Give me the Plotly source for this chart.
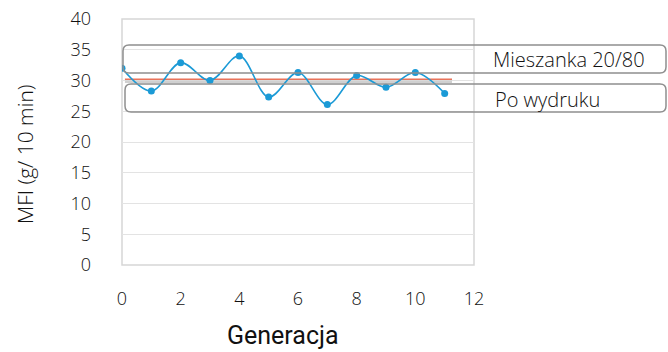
import plotly.graph_objects as go

generations = list(range(12))
mfi_values = [32.0, 28.3, 32.9, 30.0, 34.0, 27.3, 31.3, 26.1, 30.8, 28.9, 31.3, 27.9]
blend_level = 30.2
blend_x = [0.1, 11.25]
x_ticks = [0, 2, 4, 6, 8, 10, 12]
y_ticks = [0, 5, 10, 15, 20, 25, 30, 35, 40]
legend_labels = ["Mieszanka 20/80", "Po wydruku"]

W, H = 668, 352
L, R, T, B = 122, 194, 19, 87
pw, ph = W - L - R, H - T - B

def px_x(p):
    return (p - L) / pw

def px_y(p):
    return (H - B - p) / ph

def rounded(x0, y0, x1, y1, r=6):
    rx, ry = r / pw, r / ph
    a, b, c, d = px_x(x0), px_y(y1), px_x(x1), px_y(y0)
    return (f"M{a+rx},{b} L{c-rx},{b} Q{c},{b} {c},{b+ry} L{c},{d-ry} Q{c},{d} {c-rx},{d} "
            f"L{a+rx},{d} Q{a},{d} {a},{d-ry} L{a},{b+ry} Q{a},{b} {a+rx},{b} Z")

fig = go.Figure()

fig.add_trace(go.Scatter(x=blend_x, y=[blend_level - 0.4] * 2, mode="lines",
                         line=dict(color="#d0d0d0", width=2.5), hoverinfo="skip", showlegend=False))
fig.add_trace(go.Scatter(x=blend_x, y=[blend_level] * 2, mode="lines",
                         line=dict(color="#e8735a", width=1.6), name=legend_labels[0], showlegend=False))
fig.add_trace(go.Scatter(x=generations, y=mfi_values, mode="lines+markers",
                         line=dict(color="#1b9ad6", width=1.6, shape="spline", smoothing=1.0),
                         marker=dict(color="#1b9ad6", size=7), name=legend_labels[1], showlegend=False))

font_main = "Open Sans, Noto Sans, sans-serif"
tick_font = dict(family=font_main, size=18, color="#111111", weight=350)

fig.update_layout(
    template="none",
    width=W, height=H,
    margin=dict(l=L, r=R, t=T, b=B, autoexpand=False),
    paper_bgcolor="white", plot_bgcolor="white",
    xaxis=dict(range=[0, 12], tickvals=x_ticks, showgrid=False, zeroline=False, automargin=False,
               showline=False, ticks="", ticklabelstandoff=21, tickfont=tick_font),
    yaxis=dict(range=[0, 40], tickvals=y_ticks, showgrid=True, gridcolor="#e3e3e3", automargin=False,
               gridwidth=1, zeroline=False, showline=False, ticks="", ticklabelstandoff=30,
               tickfont=tick_font),
    shapes=[
        dict(type="rect", xref="paper", yref="paper", x0=0, y0=0, x1=1, y1=1,
             line=dict(color="#d6d6d6", width=1.5), layer="below"),
        dict(type="path", xref="paper", yref="paper", path=rounded(123, 45, 666, 73),
             line=dict(color="#8f8f8f", width=1.5)),
        dict(type="path", xref="paper", yref="paper", path=rounded(125, 84, 666, 112),
             line=dict(color="#8f8f8f", width=1.5)),
    ],
    annotations=[
        dict(text=legend_labels[0], xref="paper", yref="paper", x=px_x(491), y=px_y(59),
             xanchor="left", yanchor="middle", showarrow=False,
             font=dict(family=font_main, size=20, color="#111111", weight=350)),
        dict(text=legend_labels[1], xref="paper", yref="paper", x=px_x(493), y=px_y(99),
             xanchor="left", yanchor="middle", showarrow=False,
             font=dict(family=font_main, size=20, color="#111111", weight=350)),
        dict(text="MFI (g/ 10 min)", xref="paper", yref="paper", x=px_x(25), y=px_y(154),
             xanchor="center", yanchor="middle", textangle=-90, showarrow=False,
             font=dict(family=font_main, size=21, color="#111111", weight=350)),
        dict(text="Generacja", xref="paper", yref="paper", x=px_x(283), y=px_y(335),
             xanchor="center", yanchor="middle", showarrow=False,
             font=dict(family="Roboto, sans-serif", size=25, color="#111111", weight=400)),
    ],
)

fig.write_html("out.html", config={"responsive": False, "displayModeBar": False},
               post_script="document.body.style.margin='0';document.body.style.overflow='hidden';")
